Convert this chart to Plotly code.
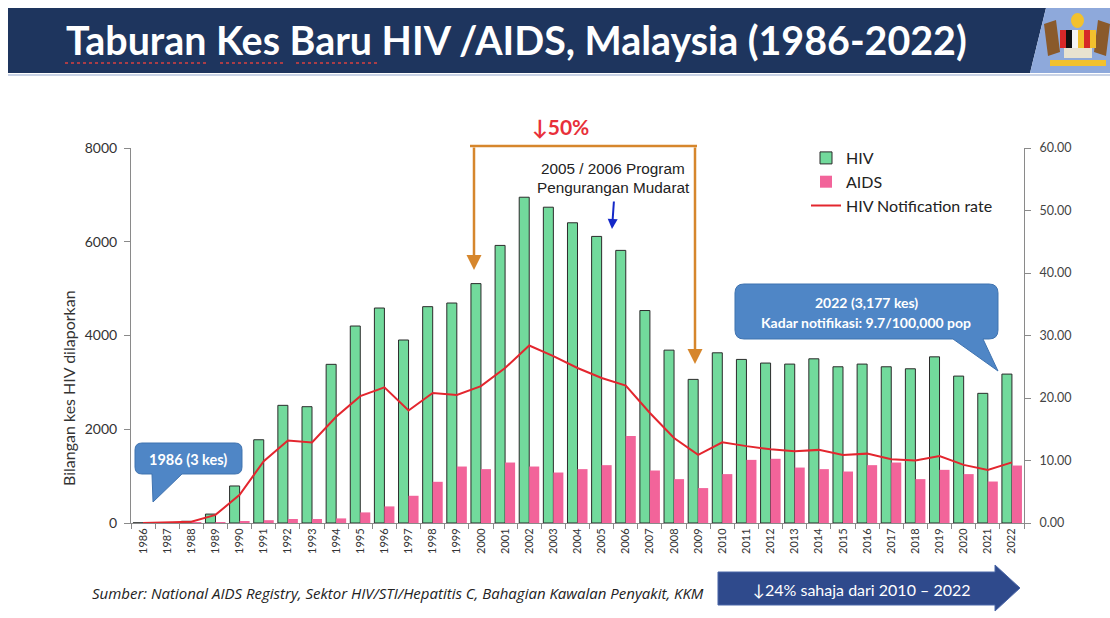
import plotly.graph_objects as go

# ---------------- data ----------------
years = [str(y) for y in range(1986, 2023)]
hiv_cases = [3, 10, 37, 190, 790, 1776, 2510, 2481, 3385, 4202, 4586, 3904, 4615, 4693,
             5107, 5922, 6950, 6737, 6405, 6114, 5816, 4533, 3688, 3064,
             3631, 3490, 3412, 3390, 3503, 3333, 3390, 3333, 3290, 3545, 3134, 2766, 3177]
aids_cases = [2, 5, 10, 20, 25, 60, 85, 85, 98, 226, 354, 581, 879, 1205,
              1149, 1290, 1205, 1077, 1149, 1234, 1858, 1120, 936, 745,
              1043, 1347, 1370, 1183, 1149, 1098, 1234, 1290, 936, 1134, 1043, 885, 1226]
notification_rate = [0.02, 0.06, 0.2, 1.3, 4.5, 9.9, 13.2, 12.9, 17.0, 20.3, 21.7, 18.0, 20.8, 20.5,
                     21.9, 24.8, 28.4, 26.7, 24.8, 23.2, 22.0, 17.6, 13.6, 10.9,
                     12.9, 12.3, 11.8, 11.5, 11.7, 10.9, 11.1, 10.2, 10.0, 10.7, 9.3, 8.5, 9.7]

left_ticks = [0, 2000, 4000, 6000, 8000]
right_ticks = [0, 10, 20, 30, 40, 50, 60]

title_text = "Taburan Kes Baru HIV /AIDS, Malaysia (1986-2022)"
y_title = "Bilangan kes HIV dilaporkan"
source_text = "Sumber: National AIDS Registry, Sektor HIV/STI/Hepatitis C, Bahagian Kawalan Penyakit, KKM"

# ---------------- geometry helpers (pixel -> paper) ----------------
W, H = 1110, 618
L, R, T, B = 131, 1024, 148, 523


def px(x):
    return (x - L) / (R - L)


def py(y):
    return (B - y) / (B - T)


def P(x, y):
    return f"{px(x):.5f},{py(y):.5f}"


def callout_path(x0, y0, x1, y1, r, b1, b2, tip):
    return (f"M{P(x0 + r, y0)} L{P(x1 - r, y0)} Q{P(x1, y0)} {P(x1, y0 + r)} "
            f"L{P(x1, y1 - r)} Q{P(x1, y1)} {P(x1 - r, y1)} "
            f"L{P(b2, y1)} L{P(*tip)} L{P(b1, y1)} "
            f"L{P(x0 + r, y1)} Q{P(x0, y1)} {P(x0, y1 - r)} "
            f"L{P(x0, y0 + r)} Q{P(x0, y0)} {P(x0 + r, y0)} Z")


def poly(points):
    return "M" + " L".join(P(x, y) for x, y in points) + " Z"


# ---------------- figure ----------------
fig = go.Figure()
fig.add_bar(x=years, y=hiv_cases, name="HIV",
            marker=dict(color="#72DA9C", line=dict(color="#2b2b2b", width=1)))
fig.add_bar(x=years, y=aids_cases, name="AIDS",
            marker=dict(color="#F2649A", line=dict(color="#F2649A", width=0)))
fig.add_scatter(x=years, y=notification_rate, name="HIV Notification rate", yaxis="y2",
                mode="lines", line=dict(color="#E3262E", width=2))

shapes = []
annotations = []

# title banner
shapes.append(dict(type="path", xref="paper", yref="paper", layer="above",
                   path=poly([(8, 8), (1046, 8), (1030, 73), (8, 73)]),
                   fillcolor="#1E355E", line=dict(width=0)))
shapes.append(dict(type="path", xref="paper", yref="paper", layer="above",
                   path=poly([(1046, 8), (1110, 8), (1110, 73), (1030, 73)]),
                   fillcolor="#8EA9DB", line=dict(width=0)))
shapes.append(dict(type="line", xref="paper", yref="paper", x0=px(8), x1=px(1110), y0=py(75), y1=py(75),
                   line=dict(color="#C9D3E6", width=2)))
# simplified coat of arms
shapes.append(dict(type="path", xref="paper", yref="paper", layer="above",
                   path=poly([(1044, 24), (1056, 20), (1060, 52), (1048, 56)]),
                   fillcolor="#8A5A2B", line=dict(width=0)))
shapes.append(dict(type="path", xref="paper", yref="paper", layer="above",
                   path=poly([(1098, 20), (1110, 24), (1106, 56), (1094, 52)]),
                   fillcolor="#8A5A2B", line=dict(width=0)))
shield_cols = ["#D62828", "#111111", "#F4F4F4", "#F2C12E", "#D62828", "#F2C12E"]
for i, c in enumerate(shield_cols):
    shapes.append(dict(type="rect", xref="paper", yref="paper", layer="above",
                       x0=px(1060 + i * 6), x1=px(1066 + i * 6), y0=py(48), y1=py(30),
                       fillcolor=c, line=dict(width=0)))
shapes.append(dict(type="rect", xref="paper", yref="paper", layer="above",
                   x0=px(1064), x1=px(1092), y0=py(58), y1=py(48),
                   fillcolor="#E8E2D0", line=dict(width=0)))
shapes.append(dict(type="circle", xref="paper", yref="paper", layer="above",
                   x0=px(1071), x1=px(1084), y0=py(28), y1=py(13),
                   fillcolor="#F2C12E", line=dict(width=0)))
shapes.append(dict(type="rect", xref="paper", yref="paper", layer="above",
                   x0=px(1050), x1=px(1106), y0=py(66), y1=py(60),
                   fillcolor="#F2C12E", line=dict(width=0)))

annotations.append(dict(xref="paper", yref="paper", x=px(64), y=py(40), xanchor="left", yanchor="middle",
                        text=f"<b>{title_text}</b>", showarrow=False,
                        font=dict(family="Lato", size=39.4, color="white")))
# spell-check squiggles under title words
for x0, x1 in [(65, 207), (220, 285), (296, 378)]:
    shapes.append(dict(type="line", xref="paper", yref="paper", layer="above",
                       x0=px(x0), x1=px(x1), y0=py(63), y1=py(63),
                       line=dict(color="#D94040", width=1.5, dash="dot")))

# y axis title
annotations.append(dict(xref="paper", yref="paper", x=px(68), y=py(388), textangle=-90,
                        xanchor="center", yanchor="middle", text=y_title, showarrow=False,
                        font=dict(family="Lato", size=16, color="#333")))

# 1986 callout
shapes.append(dict(type="path", xref="paper", yref="paper", layer="above",
                   path=callout_path(135, 443, 242, 474, 7, 152, 182, (153, 502)),
                   fillcolor="#4F86C6", line=dict(color="#3F73B0", width=1)))
annotations.append(dict(xref="paper", yref="paper", x=px(188), y=py(459), showarrow=False,
                        text="<b>1986 (3 kes)</b>", xanchor="center", yanchor="middle",
                        font=dict(family="Lato", size=14.5, color="white")))

# 2022 callout
shapes.append(dict(type="path", xref="paper", yref="paper", layer="above",
                   path=callout_path(735, 284, 998, 339, 9, 953, 983, (998, 371)),
                   fillcolor="#4F86C6", line=dict(color="#3F73B0", width=1)))
annotations.append(dict(xref="paper", yref="paper", x=px(866), y=py(302), showarrow=False,
                        text="<b>2022 (3,177 kes)</b>", xanchor="center", yanchor="middle",
                        font=dict(family="Lato", size=14, color="white")))
annotations.append(dict(xref="paper", yref="paper", x=px(866), y=py(322), showarrow=False,
                        text="<b>Kadar notifikasi: 9.7/100,000 pop</b>", xanchor="center", yanchor="middle",
                        font=dict(family="Lato", size=14, color="white")))

# orange bracket
orange = "#D6862C"
shapes.append(dict(type="line", xref="paper", yref="paper", layer="above",
                   x0=px(470), x1=px(697), y0=py(146), y1=py(146),
                   line=dict(color=orange, width=2.5)))
annotations.append(dict(xref="paper", yref="paper", x=px(474), y=py(270), ax=0, ay=-(270 - 146),
                        axref="pixel", ayref="pixel", showarrow=True, arrowhead=2, arrowsize=1.2,
                        arrowwidth=2.5, arrowcolor=orange, text=""))
annotations.append(dict(xref="paper", yref="paper", x=px(695), y=py(364), ax=0, ay=-(364 - 146),
                        axref="pixel", ayref="pixel", showarrow=True, arrowhead=2, arrowsize=1.2,
                        arrowwidth=2.5, arrowcolor=orange, text=""))
annotations.append(dict(xref="paper", yref="paper", x=px(560), y=py(127), showarrow=False,
                        text="<b>↓50%</b>", xanchor="center", yanchor="middle",
                        font=dict(family="Lato", size=21, color="#E8303A")))

# program text and blue arrow
annotations.append(dict(xref="paper", yref="paper", x=px(613), y=py(168), showarrow=False,
                        text="2005 / 2006 Program", xanchor="center", yanchor="middle",
                        font=dict(family="Liberation Sans", size=15.3, color="#222")))
annotations.append(dict(xref="paper", yref="paper", x=px(613), y=py(187), showarrow=False,
                        text="Pengurangan Mudarat", xanchor="center", yanchor="middle",
                        font=dict(family="Liberation Sans", size=15.3, color="#222")))
annotations.append(dict(xref="paper", yref="paper", x=px(612), y=py(229), ax=2, ay=-29,
                        axref="pixel", ayref="pixel", showarrow=True, arrowhead=2, arrowsize=1,
                        arrowwidth=2, arrowcolor="#1428C8", text=""))

# source text
annotations.append(dict(xref="paper", yref="paper", x=px(90), y=py(593), showarrow=False,
                        text=f"<i>{source_text}</i>", xanchor="left", yanchor="middle",
                        font=dict(family="Open Sans", size=15, color="#222")))

# bottom arrow banner
shapes.append(dict(type="path", xref="paper", yref="paper", layer="above",
                   path=poly([(718, 572), (995, 572), (995, 565), (1020, 588), (995, 611), (995, 605), (718, 605)]),
                   fillcolor="#2F4A8C", line=dict(color="#4A66A8", width=1)))
annotations.append(dict(xref="paper", yref="paper", x=px(862), y=py(589), showarrow=False,
                        text="↓24% sahaja dari 2010 – 2022", xanchor="center", yanchor="middle",
                        font=dict(family="Lato", size=16, color="white")))

axis_grey = "#8a8a8a"
fig.update_layout(
    width=W, height=H, autosize=False,
    margin=dict(l=L, r=W - R, t=T, b=H - B, autoexpand=False),
    plot_bgcolor="white", paper_bgcolor="white",
    barmode="group", bargap=0.17, bargroupgap=0,
    font=dict(family="Lato", color="#333"),
    showlegend=True,
    legend=dict(x=px(806), y=py(141), xanchor="left", yanchor="top", traceorder="normal",
                font=dict(family="Lato", size=16, color="#222"), bgcolor="rgba(0,0,0,0)",
                itemwidth=30, tracegroupgap=0),
    xaxis=dict(type="category", tickangle=-90, tickson="boundaries", ticks="outside", ticklen=5,
               tickcolor=axis_grey, showline=True, linecolor=axis_grey, showgrid=False,
               tickfont=dict(family="Lato", size=11, color="#333")),
    yaxis=dict(range=[0, 8000], tickvals=left_ticks, ticks="outside", ticklen=6, tickcolor=axis_grey,
               showline=True, linecolor=axis_grey, showgrid=False, zeroline=False,
               ticklabelstandoff=4,
               tickfont=dict(family="Lato", size=14, color="#333")),
    yaxis2=dict(overlaying="y", side="right", range=[0, 60], tickvals=right_ticks, tickformat=".2f",
                ticks="outside", ticklen=6, tickcolor=axis_grey, showline=True, linecolor=axis_grey,
                showgrid=False, zeroline=False, ticklabelstandoff=6,
                tickfont=dict(family="Lato", size=12.5, color="#444")),
    shapes=shapes,
    annotations=annotations,
)

fig.write_html("out.html", config={"displayModeBar": False})

# remove the default 8px page margin so the figure sits at the window origin
with open("out.html", "r", encoding="utf-8") as f:
    html = f.read()
html = html.replace("<head>", "<head><style>html,body{margin:0;padding:0;overflow:hidden;}</style>", 1)
with open("out.html", "w", encoding="utf-8") as f:
    f.write(html)
